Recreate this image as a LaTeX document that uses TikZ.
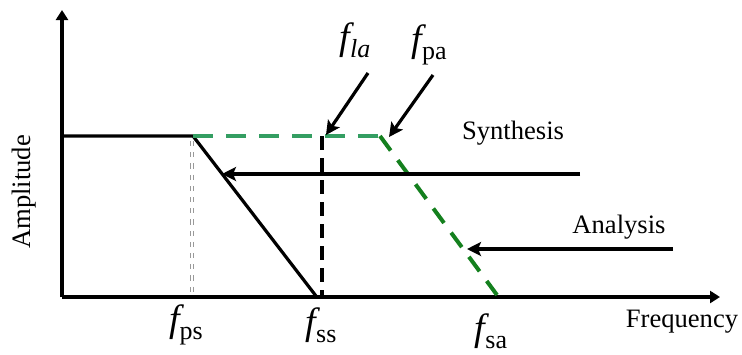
\documentclass[tikz,border=0pt]{standalone}
\usepackage{fontspec}
\setmainfont{Liberation Serif}
\usetikzlibrary{arrows.meta}
\definecolor{flatgreen}{RGB}{52,158,98}
\definecolor{slopegreen}{RGB}{20,128,30}
\newcommand{\flab}[1]{{\fontsize{19}{22}\selectfont\itshape f}\raisebox{-4pt}{\fontsize{13}{15}\selectfont #1}}
\tikzset{axis/.style={line width=1.6pt, -{Triangle[length=5pt,width=6pt]}},
  pointer/.style={line width=1.6pt, -{Stealth[length=7pt,width=7pt,inset=1.5pt]}},
  txt/.style={font=\fontsize{13.3}{16}\selectfont, inner sep=0pt}}
\begin{document}
\begin{tikzpicture}[x=0.5pt, y=-0.5pt]
        \useasboundingbox (0,0) rectangle (742,354);
        % axes
        \coordinate (o) at (62,297); \coordinate (ytop) at (62,10); \coordinate (xend) at (720,297);
        \draw[axis] (o) -- (ytop); \draw[axis] (o) -- (xend);
        % synthesis and analysis responses
        \coordinate (pass) at (62,136); \coordinate (ps) at (193,136); \coordinate (ss) at (316,296);
        \coordinate (pa) at (380,136); \coordinate (sa) at (497,295);
        \coordinate (la) at (322,136); \coordinate (lb) at (322,297);
        \coordinate (pst) at (192,141); \coordinate (psb) at (192,293);
        \draw[gray!80, line width=0.45pt, double=white, double distance=1.1pt, dash pattern=on 2.6pt off 3pt] (pst) -- (psb);
        \draw[line width=1.6pt] (pass) -- (ps) -- (ss);
        \draw[color=flatgreen, line width=2pt, dash pattern=on 10pt off 6.5pt] (ps) -- (pa);
        \draw[color=slopegreen, line width=2pt, dash pattern=on 9pt off 6pt] (pa) -- (sa);
        \draw[line width=1.6pt, dash pattern=on 7pt off 4pt] (la) -- (lb);
        % labels
        \node[txt, rotate=90] (amp) at (24,192) {Amplitude};
        \node[txt] (freq) at (682,322) {Frequency};
        \node[txt] (syn) at (513,133) {Synthesis};
        \node[txt] (ana) at (619,227) {Analysis};
        \node[inner sep=0pt] (fps) at (186,325) {\flab{ps}};
        \node[inner sep=0pt] (fss) at (321,325) {\flab{ss}};
        \node[inner sep=0pt] (fsa) at (491,331) {\flab{sa}};
        \node[inner sep=0pt] (fla) at (355,40) {{\fontsize{19}{22}\selectfont\itshape f}\raisebox{-4pt}{\fontsize{13}{15}\selectfont\itshape la}};
        \node[inner sep=0pt] (fpa) at (429,45) {\flab{pa}};
        % pointers
        \coordinate (laf) at (368,73); \coordinate (lat) at (326,135);
        \coordinate (paf) at (433,75); \coordinate (pat) at (389,137);
        \coordinate (synf) at (580,174); \coordinate (synt) at (222,174);
        \coordinate (anaf) at (673,249); \coordinate (anat) at (467,249);
        \draw[pointer] (laf) -- (lat); \draw[pointer] (paf) -- (pat);
        \draw[pointer] (synf) -- (synt); \draw[pointer] (anaf) -- (anat);
    \end{tikzpicture}
\end{document}
